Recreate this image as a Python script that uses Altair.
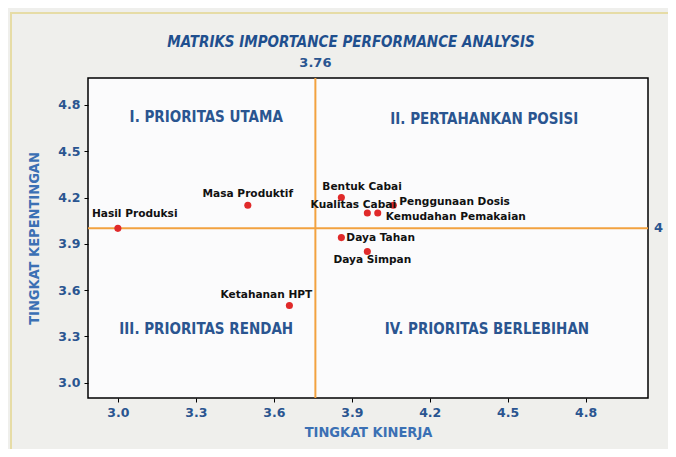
import altair as alt
import pandas as pd

# ---- data ----
attributes = ["Hasil Produksi", "Masa Produktif", "Bentuk Cabai", "Kualitas Cabai",
              "Penggunaan Dosis", "Kemudahan Pemakaian", "Daya Tahan", "Daya Simpan",
              "Ketahanan HPT"]
kinerja = [3.00, 3.50, 3.86, 3.96, 4.06, 4.00, 3.86, 3.96, 3.66]
kepentingan = [4.00, 4.15, 4.20, 4.10, 4.15, 4.10, 3.94, 3.85, 3.50]

x_mean = 3.76
y_mean = 4.0
tick_values = [3.0, 3.3, 3.6, 3.9, 4.2, 4.5, 4.8]

quadrant_names = ["I. PRIORITAS UTAMA", "II. PERTAHANKAN POSISI",
                  "III. PRIORITAS RENDAH", "IV. PRIORITAS BERLEBIHAN"]
quadrant_x = [3.34, 4.41, 3.34, 4.42]
quadrant_y = [4.72, 4.71, 3.35, 3.35]

title_text = "MATRIKS IMPORTANCE PERFORMANCE ANALYSIS"
x_title = "TINGKAT KINERJA"
y_title = "TINGKAT KEPENTINGAN"

# label placement (style): align, dx, dy
label_style = {
    "Hasil Produksi": ("left", -26, -14),
    "Masa Produktif": ("center", 0, -11),
    "Bentuk Cabai": ("left", -19, -11),
    "Kualitas Cabai": ("center", -14, -8),
    "Penggunaan Dosis": ("left", 6, -3),
    "Kemudahan Pemakaian": ("left", 8, 4),
    "Daya Tahan": ("left", 5, 0),
    "Daya Simpan": ("center", 5, 9),
    "Ketahanan HPT": ("center", -23, -10),
}

W, H = 560, 320
BLUE = "#2a5590"
ORANGE = "#f2a240"
FONT = "DejaVu Sans"
CFONT = "DejaVu Sans Condensed"

df = pd.DataFrame({"attr": attributes, "kinerja": kinerja, "kepentingan": kepentingan})
qdf = pd.DataFrame({"name": quadrant_names, "x": quadrant_x, "y": quadrant_y})

xs = alt.Scale(domain=[2.885, 5.04], nice=False, zero=False)
ys = alt.Scale(domain=[2.90, 4.975], nice=False, zero=False)

xax = alt.Axis(values=tick_values, format=".1f", grid=False, title=x_title,
               labelColor=BLUE, labelFontWeight="bold", labelFontSize=12.5, labelFont=FONT,
               titleColor="#3b70b4", titleFont=CFONT, titleFontSize=14.5,
               titleFontWeight="bold", titlePadding=7, tickColor="black", tickSize=4,
               domain=False, labelPadding=4)
yax = alt.Axis(values=tick_values, format=".1f", grid=False, title=y_title,
               labelColor=BLUE, labelFontWeight="bold", labelFontSize=12.5, labelFont=FONT,
               titleColor="#3b70b4", titleFont=CFONT, titleFontSize=14.5,
               titleFontWeight="bold", titlePadding=16, tickColor="black", tickSize=4,
               domain=False, labelPadding=4)

base = alt.Chart(df)

points = base.mark_circle(size=50, color="#e02a2a", opacity=1).encode(
    x=alt.X("kinerja:Q", scale=xs, axis=xax),
    y=alt.Y("kepentingan:Q", scale=ys, axis=yax),
)

vline = alt.Chart(pd.DataFrame({"v": [x_mean]})).mark_rule(color=ORANGE, strokeWidth=2).encode(
    x=alt.X("v:Q", scale=xs), y=alt.value(0), y2=alt.value(H))
hline = alt.Chart(pd.DataFrame({"v": [y_mean]})).mark_rule(color=ORANGE, strokeWidth=2).encode(
    y=alt.Y("v:Q", scale=ys), x=alt.value(0), x2=alt.value(W))

label_layers = []
for name in attributes:
    align, dx, dy = label_style[name]
    label_layers.append(
        alt.Chart(df[df["attr"] == name]).mark_text(
            align=align, baseline="middle", dx=dx, dy=dy, font=FONT,
            fontSize=10.6, fontWeight="bold", color="#111111"
        ).encode(x=alt.X("kinerja:Q", scale=xs), y=alt.Y("kepentingan:Q", scale=ys),
                 text="attr:N")
    )

quad = alt.Chart(qdf).mark_text(font=CFONT, fontSize=15, fontWeight="bold", color=BLUE,
                                align="center", baseline="middle").encode(
    x=alt.X("x:Q", scale=xs), y=alt.Y("y:Q", scale=ys), text="name:N")

mean_x_label = alt.Chart(pd.DataFrame({"v": [x_mean], "t": ["3.76"]})).mark_text(
    font=FONT, fontSize=13, fontWeight="bold", color=BLUE, baseline="middle").encode(
    x=alt.X("v:Q", scale=xs), y=alt.value(-15), text="t:N")
mean_y_label = alt.Chart(pd.DataFrame({"v": [y_mean], "t": ["4"]})).mark_text(
    font=FONT, fontSize=13, fontWeight="bold", color=BLUE, align="left",
    baseline="middle").encode(
    y=alt.Y("v:Q", scale=ys), x=alt.value(W + 6), text="t:N")

title = alt.Chart(pd.DataFrame({"t": [title_text]})).mark_text(
    font=CFONT, fontSize=15, fontWeight="bold", fontStyle="italic",
    color="#1f4f8e", align="center", baseline="middle").encode(
    x=alt.value(263), y=alt.value(-36), text="t:N")

border = alt.Chart(pd.DataFrame({"a": [0]})).mark_rect(
    fill=None, stroke="#e6dca6", strokeWidth=2).encode(
    x=alt.value(-77), x2=alt.value(W + 40), y=alt.value(-65), y2=alt.value(H + 56))

chart = alt.layer(border, vline, hline, points, *label_layers, quad, mean_x_label,
                  mean_y_label, title).properties(
    width=W, height=H,
    autosize=alt.AutoSizeParams(type="none"),
    padding={"left": 80, "top": 70, "right": 20, "bottom": 51},
    background="#efefec",
).configure_view(stroke="black", strokeWidth=1.5, fill="#fbfbfc")

chart.save("out.html", embed_options={"renderer": "svg", "actions": False})
